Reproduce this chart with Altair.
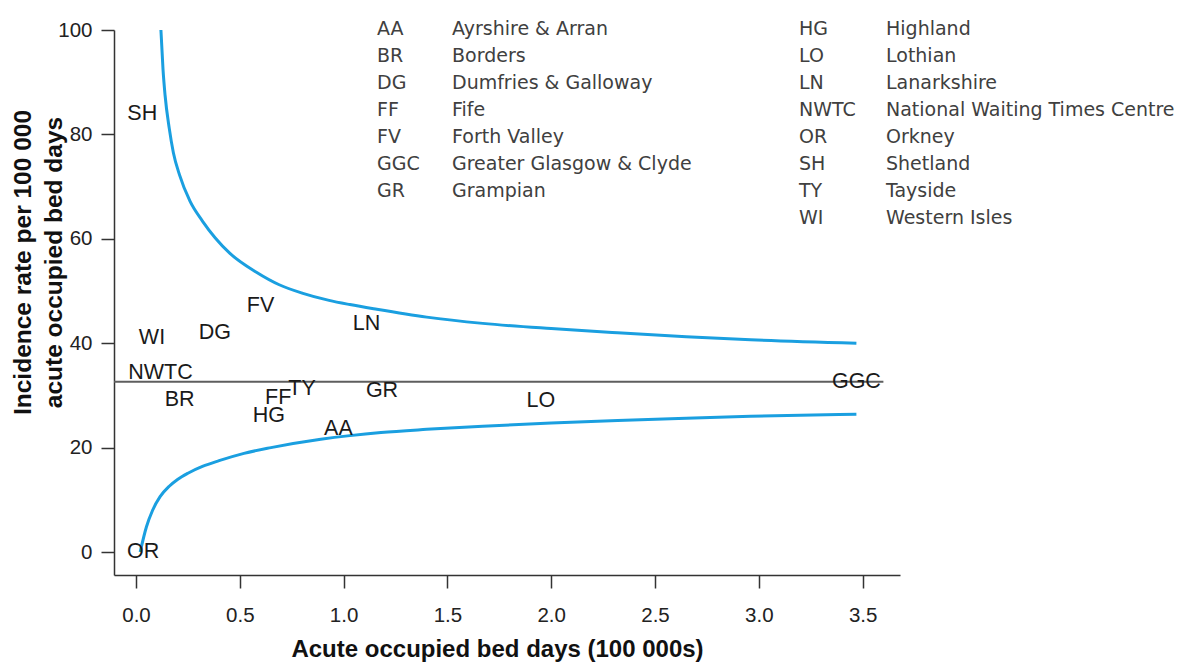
import altair as alt
import pandas as pd

# ---- data ----
upper_x = [0.12, 0.13, 0.14, 0.16, 0.18, 0.21, 0.26, 0.32, 0.45, 0.58, 0.69, 0.80, 0.93, 1.03, 1.16, 1.40,
           1.67, 2.00, 2.32, 2.65, 2.96, 3.47]
upper_y = [100.0, 92.5, 87.5, 81.2, 76.5, 72.2, 67.2, 63.4, 57.3, 53.6, 51.2, 49.6, 48.2, 47.4, 46.5, 45.0,
           43.8, 42.8, 42.0, 41.25, 40.65, 40.0]
lower_x = [0.02, 0.05, 0.08, 0.116, 0.16, 0.20, 0.25, 0.32, 0.40, 0.52, 0.65, 0.89, 1.03, 1.18, 1.40, 1.67,
           2.00, 2.32, 2.65, 2.96, 3.47]
lower_y = [0.0, 4.8, 8.0, 10.6, 12.6, 13.9, 15.1, 16.4, 17.5, 18.9, 20.0, 21.6, 22.3, 22.9, 23.5, 24.1,
           24.7, 25.2, 25.65, 26.0, 26.4]
mean_rate = 32.6
mean_line_end = 3.6

board_codes = ["AA", "BR", "DG", "FF", "FV", "GGC", "GR", "HG", "LO", "LN", "NWTC", "OR", "SH", "TY", "WI"]
board_beddays = [0.975, 0.21, 0.38, 0.685, 0.60, 3.47, 1.185, 0.64, 1.95, 1.11, 0.118, 0.034, 0.03, 0.80, 0.077]
board_rates = [23.5, 29.1, 41.9, 29.5, 47.1, 32.6, 30.8, 26.1, 28.9, 43.7, 34.3, 0.0, 83.9, 31.2, 41.0]

key_codes_left = ["AA", "BR", "DG", "FF", "FV", "GGC", "GR"]
key_names_left = ["Ayrshire & Arran", "Borders", "Dumfries & Galloway", "Fife", "Forth Valley",
                  "Greater Glasgow & Clyde", "Grampian"]
key_codes_right = ["HG", "LO", "LN", "NWTC", "OR", "SH", "TY", "WI"]
key_names_right = ["Highland", "Lothian", "Lanarkshire", "National Waiting Times Centre", "Orkney",
                   "Shetland", "Tayside", "Western Isles"]

x_ticks = [0.0, 0.5, 1.0, 1.5, 2.0, 2.5, 3.0, 3.5]
y_ticks = [0, 20, 40, 60, 80, 100]
x_domain = [-0.106, 3.68]
y_domain = [-4.4, 100]

# ---- tables ----
limits = pd.DataFrame({
    "beddays": upper_x + lower_x,
    "rate": upper_y + lower_y,
    "limit": ["upper"] * len(upper_x) + ["lower"] * len(lower_x),
})
mean_df = pd.DataFrame({"start": [x_domain[0]], "end": [mean_line_end], "rate": [mean_rate]})
boards = pd.DataFrame({"code": board_codes, "beddays": board_beddays, "rate": board_rates})
key_left = pd.DataFrame({"code": key_codes_left, "name": key_names_left, "row": list(range(len(key_codes_left)))})
key_right = pd.DataFrame({"code": key_codes_right, "name": key_names_right, "row": list(range(len(key_codes_right)))})

AX = "#333333"
xs = alt.Scale(domain=x_domain, nice=False, zero=False)
ys = alt.Scale(domain=y_domain, nice=False, zero=False)

x_axis = alt.Axis(
    values=x_ticks, format=".1f", grid=False,
    title="Acute occupied bed days (100 000s)",
    tickSize=13, tickColor=AX, tickWidth=1.5, domainColor=AX, domainWidth=1.5,
    labelFont="Liberation Sans", labelFontSize=20.5, labelColor="#222222", labelPadding=17,
    titleFont="Liberation Sans", titleFontSize=24, titleFontWeight="bold", titleColor="#111111",
    titleX=383, titleY=81, titleBaseline="alphabetic",
)
y_axis = alt.Axis(
    values=y_ticks, format="d", grid=False,
    title=["Incidence rate per 100 000", "acute occupied bed days"],
    tickSize=13, tickColor=AX, tickWidth=1.5, domainColor=AX, domainWidth=1.5,
    labelFont="Liberation Sans", labelFontSize=20.5, labelColor="#222222", labelPadding=9,
    titleFont="Liberation Sans", titleFontSize=24.5, titleFontWeight="bold", titleColor="#111111",
    titleAngle=270, titleX=-103, titleY=232, titleBaseline="top", titleLineHeight=31, titleAlign="center",
)

curves = alt.Chart(limits).mark_line(color="#1a9fe0", strokeWidth=3, interpolate="monotone").encode(
    x=alt.X("beddays:Q", scale=xs, axis=x_axis),
    y=alt.Y("rate:Q", scale=ys, axis=y_axis),
    detail="limit:N",
)

mean_rule = alt.Chart(mean_df).mark_rule(color="#5e5e5e", strokeWidth=2).encode(
    x=alt.X("start:Q", scale=xs),
    x2="end:Q",
    y=alt.Y("rate:Q", scale=ys),
)

labels = alt.Chart(boards).mark_text(
    font="Liberation Sans", fontSize=21.5, color="#1a1a1a", align="center", baseline="middle"
).encode(
    x=alt.X("beddays:Q", scale=xs),
    y=alt.Y("rate:Q", scale=ys),
    text="code:N",
)

main = alt.layer(curves, mean_rule, labels)

key_scale = alt.Scale(domain=[0, 10], range=[-1, 269])
key_font = dict(font="DejaVu Sans", fontSize=19, color="#404040", align="left", baseline="middle")


def key_layer(df, field, xpix):
    return alt.Chart(df).mark_text(**key_font).encode(
        x=alt.value(xpix),
        y=alt.Y("row:Q", scale=key_scale, axis=None),
        text=f"{field}:N",
    )


key = alt.layer(
    key_layer(key_left, "code", 263),
    key_layer(key_left, "name", 338),
    key_layer(key_right, "code", 685),
    key_layer(key_right, "name", 772),
)

chart = alt.layer(main, key).resolve_scale(y="independent").properties(
    width=786, height=545,
    padding={"left": 106, "top": 22, "right": 280, "bottom": 89},
    autosize="none",
    background="white",
).configure_view(stroke=None)

chart.save("out.html", embed_options={"renderer": "svg", "actions": False})
